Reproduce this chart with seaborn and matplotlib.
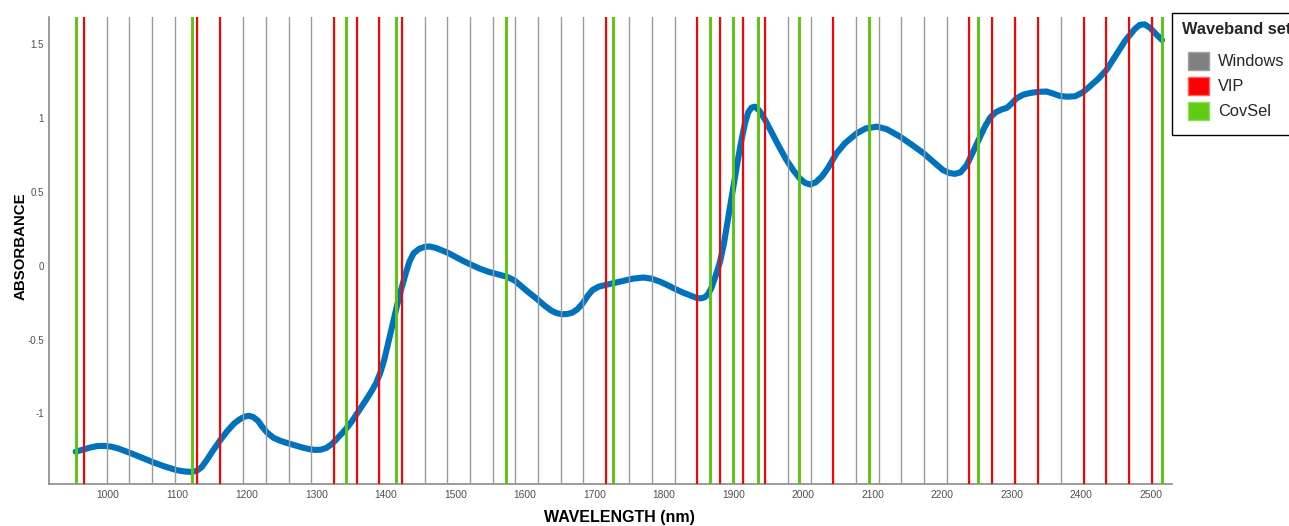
import matplotlib
matplotlib.use("Agg")
import matplotlib.pyplot as plt
from matplotlib.patches import Patch
import pandas as pd
import seaborn as sns

# Mean NIR absorbance spectrum (wavelength in nm, absorbance)
wavelength = [954, 965, 975, 985, 995, 1005, 1015, 1032, 1050, 1066, 1083, 1099,
              1110, 1121, 1128, 1135, 1142, 1150, 1162, 1172, 1182, 1190, 1197, 1203,
              1209, 1216, 1222, 1229, 1238, 1248, 1257, 1268, 1280, 1290, 1298, 1306,
              1314, 1322, 1330, 1338, 1345, 1352, 1358, 1365, 1372, 1380, 1386, 1392,
              1398, 1404, 1410, 1416, 1422, 1428, 1434, 1440, 1448, 1456, 1463, 1472,
              1480, 1490, 1500, 1510, 1521, 1535, 1548, 1560, 1574, 1585, 1595, 1605,
              1617, 1628, 1638, 1646, 1653, 1661, 1668, 1675, 1683, 1690, 1697, 1706,
              1718, 1730, 1742, 1755, 1770, 1782, 1794, 1805, 1815, 1826, 1836, 1845,
              1852, 1858, 1863, 1868, 1874, 1880, 1886, 1892, 1898, 1904, 1910, 1916,
              1921, 1926, 1931, 1937, 1945, 1955, 1966, 1976, 1986, 1995, 2003, 2010,
              2018, 2027, 2036, 2048, 2060, 2077, 2090, 2106, 2120, 2139, 2156, 2173,
              2188, 2201, 2210, 2218, 2226, 2235, 2243, 2252, 2261, 2269, 2277, 2285,
              2293, 2300, 2307, 2316, 2326, 2338, 2350, 2360, 2369, 2380, 2391, 2402,
              2412, 2424, 2436, 2446, 2456, 2463, 2470, 2477, 2484, 2491, 2499, 2507,
              2516]
absorbance = [-1.260, -1.245, -1.232, -1.222, -1.221, -1.226, -1.238, -1.268, -1.302,
              -1.333, -1.362, -1.385, -1.394, -1.397, -1.390, -1.365, -1.320, -1.262,
              -1.181, -1.120, -1.068, -1.040, -1.022, -1.017, -1.025, -1.050, -1.090,
              -1.130, -1.165, -1.186, -1.200, -1.215, -1.232, -1.243, -1.248, -1.247,
              -1.235, -1.210, -1.170, -1.130, -1.092, -1.048, -1.005, -0.955, -0.905,
              -0.845, -0.795, -0.725, -0.630, -0.510, -0.390, -0.270, -0.160, -0.060,
              0.030, 0.085, 0.115, 0.128, 0.130, 0.120, 0.105, 0.085, 0.060, 0.035,
              0.010, -0.020, -0.042, -0.057, -0.075, -0.100, -0.140, -0.180, -0.225,
              -0.270, -0.305, -0.322, -0.329, -0.327, -0.318, -0.296, -0.255, -0.205,
              -0.165, -0.142, -0.128, -0.115, -0.102, -0.088, -0.080, -0.088, -0.108,
              -0.132, -0.156, -0.180, -0.198, -0.215, -0.222, -0.215, -0.195, -0.150,
              -0.070, 0.020, 0.150, 0.320, 0.490, 0.660, 0.820, 0.960, 1.040, 1.072,
              1.077, 1.050, 0.990, 0.900, 0.800, 0.716, 0.645, 0.592, 0.560, 0.550,
              0.565, 0.605, 0.665, 0.762, 0.830, 0.897, 0.930, 0.942, 0.925, 0.875,
              0.820, 0.762, 0.700, 0.648, 0.628, 0.622, 0.632, 0.680, 0.760, 0.850,
              0.940, 1.005, 1.040, 1.058, 1.070, 1.100, 1.135, 1.158, 1.170, 1.178,
              1.180, 1.165, 1.150, 1.145, 1.148, 1.175, 1.215, 1.265, 1.326, 1.400,
              1.473, 1.525, 1.565, 1.605, 1.632, 1.635, 1.610, 1.570, 1.529]

# Waveband sets (nm)
windows = [966, 999, 1031, 1064, 1097, 1129, 1162, 1195, 1227, 1260, 1292, 1325,
           1358, 1390, 1423, 1456, 1488, 1521, 1554, 1586, 1619, 1652, 1684, 1717,
           1750, 1782, 1815, 1848, 1880, 1913, 1945, 1978, 2011, 2043, 2076, 2109,
           2141, 2174, 2207, 2239, 2272, 2305, 2337, 2370, 2403, 2435, 2468, 2501]
vip = [966, 1129, 1162, 1325, 1358, 1390, 1423, 1717, 1848, 1880, 1913, 1945,
       2043, 2239, 2272, 2305, 2337, 2403, 2435, 2468, 2501]
covsel = [954, 1121, 1342, 1414, 1573, 1727, 1866, 1899, 1935, 1994, 2095, 2251, 2516]

x_ticks = [1000, 1100, 1200, 1300, 1400, 1500, 1600, 1700, 1800, 1900, 2000,
           2100, 2200, 2300, 2400, 2500]
y_ticks = [-1, -0.5, 0, 0.5, 1, 1.5]
y_tick_labels = ["-1", "-0.5", "0", "0.5", "1", "1.5"]

legend_labels = ["Windows", "VIP", "CovSel"]
legend_title = "Waveband sets"

sns.set_style("white")
plt.rcParams["font.family"] = ["Liberation Sans", "DejaVu Sans"]

W, H = 1289, 526
fig = plt.figure(figsize=(W / 100, H / 100), dpi=100)
ax = fig.add_axes([49 / W, 1 - 484 / H, (1171.7 - 49) / W, (484 - 16.7) / H])

df = pd.DataFrame({"wavelength": wavelength, "absorbance": absorbance})
sns.lineplot(data=df, x="wavelength", y="absorbance", color="#0072bd",
             linewidth=4.4, ax=ax, zorder=2, solid_capstyle="round",
             solid_joinstyle="round")

for w in windows:
    ax.axvline(w, color="#9a9a9a", linewidth=1.0, zorder=3)
for w in vip:
    ax.axvline(w, color="#ff0000", linewidth=1.5, zorder=4)
for w in covsel:
    ax.axvline(w, color="#5ec40f", linewidth=2.1, zorder=5)

ax.set_xlim(915.6, 2529.8)
ax.set_ylim(-1.479, 1.687)
ax.set_xticks(x_ticks)
ax.set_xticklabels([str(t) for t in x_ticks])
ax.set_yticks(y_ticks)
ax.set_yticklabels(y_tick_labels)

ax.tick_params(axis="both", direction="in", color="#333333", width=0.8,
               length=6.5, labelcolor="#505050")
ax.tick_params(axis="x", labelsize=7.4, pad=4.5)
ax.tick_params(axis="y", labelsize=7.0, pad=3.6)

for side in ("top", "right"):
    ax.spines[side].set_visible(False)
for side in ("left", "bottom"):
    ax.spines[side].set_color("#808080")
    ax.spines[side].set_linewidth(1.1)

ax.set_xlabel("WAVELENGTH (nm)", fontsize=11.5, fontweight="bold", color="black")
ax.xaxis.set_label_coords(0.5077, -0.0556)
ax.set_ylabel("ABSORBANCE", fontsize=10.8, fontweight="bold", color="black")
ax.yaxis.set_label_coords(-0.0187, 0.508)

handles = [Patch(facecolor="#808080", edgecolor="#a0a0a0"),
           Patch(facecolor="#ff0000", edgecolor="#ff6060"),
           Patch(facecolor="#5fcb14", edgecolor="#8ede5a")]
leg = fig.legend(handles, legend_labels, title=legend_title, loc="upper left",
                 bbox_to_anchor=(1172.3 / W, 1 - 12.7 / H), frameon=True,
                 fancybox=False, edgecolor="black", fontsize=11.8,
                 title_fontproperties={"weight": "bold", "size": 11.8},
                 handlelength=1.32, handleheight=1.3, handletextpad=0.55,
                 labelspacing=0.44, borderpad=0.57, alignment="left",
                 borderaxespad=0)
leg.get_frame().set_linewidth(1.0)
leg.get_frame().set_alpha(1)
# gap between the legend title and its entries (points), and entry indent
leg._legend_box.sep = 6.3
leg._legend_handle_box.pad = 4.3

fig.savefig("out.png", dpi=100)
